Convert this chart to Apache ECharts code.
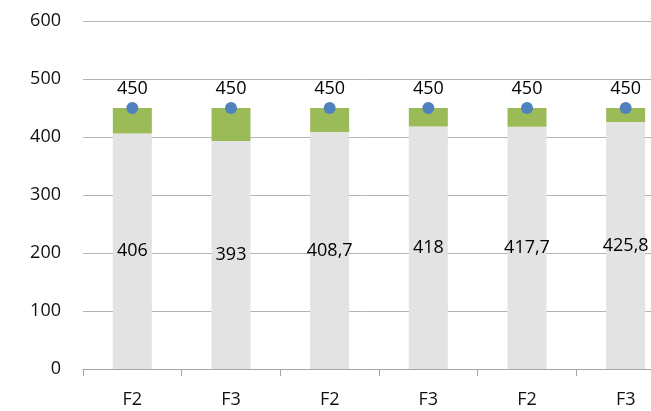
<!DOCTYPE html>
<html>
<head>
<meta charset="utf-8">
<script src="https://cdn.jsdelivr.net/npm/echarts@6/dist/echarts.min.js"></script>
<style>
  html, body { margin: 0; padding: 0; background: #fff; }
  #chart { width: 651px; height: 411px; }
</style>
</head>
<body>
<div id="chart"></div>
<script>
// 数据
const categories = ['F2', 'F3', 'F2', 'F3', 'F2', 'F3'];
const baseValues = [406, 393, 408.7, 418, 417.7, 425.8];
const totalValues = [450, 450, 450, 450, 450, 450];
const gapValues = totalValues.map((t, i) => +(t - baseValues[i]).toFixed(1));

const fontFamily = '"Open Sans", "Noto Sans", sans-serif';

const chart = echarts.init(document.getElementById('chart'));

const option = {
  animation: false,
  grid: {
    left: 83,
    right: -24,
    top: 21,
    bottom: 42,
    outerBoundsMode: 'none',
    containLabel: false
  },
  xAxis: {
    type: 'category',
    data: categories,
    axisLine: { lineStyle: { color: '#a6a6a6', width: 1 } },
    axisTick: { show: true, length: 7, lineStyle: { color: '#a6a6a6' } },
    axisLabel: {
      color: '#111',
      fontSize: 18,
      fontFamily: fontFamily,
      margin: 22
    }
  },
  yAxis: {
    type: 'value',
    min: 0,
    max: 600,
    interval: 100,
    axisLine: { show: false },
    axisTick: { show: false },
    splitLine: { lineStyle: { color: '#b3b3b3', width: 1 } },
    axisLabel: {
      color: '#111',
      fontSize: 18,
      fontFamily: fontFamily,
      margin: 22
    }
  },
  series: [
    {
      name: 'base',
      type: 'bar',
      stack: 'total',
      barWidth: 39,
      data: baseValues,
      itemStyle: { color: '#e3e3e3' },
      label: {
        show: true,
        position: 'inside',
        color: '#000',
        fontSize: 18,
        fontFamily: fontFamily,
        formatter: p => String(p.value).replace('.', ',')
      }
    },
    {
      name: 'gap',
      type: 'bar',
      stack: 'total',
      barWidth: 39,
      data: gapValues,
      itemStyle: { color: '#9bbb59' }
    },
    {
      name: 'total',
      type: 'scatter',
      data: totalValues,
      symbolSize: 12,
      z: 5,
      itemStyle: { color: '#4f81bd', opacity: 1 },
      label: {
        show: true,
        position: 'top',
        distance: 4,
        color: '#000',
        fontSize: 18,
        fontFamily: fontFamily
      }
    }
  ]
};

chart.setOption(option);
</script>
</body>
</html>
